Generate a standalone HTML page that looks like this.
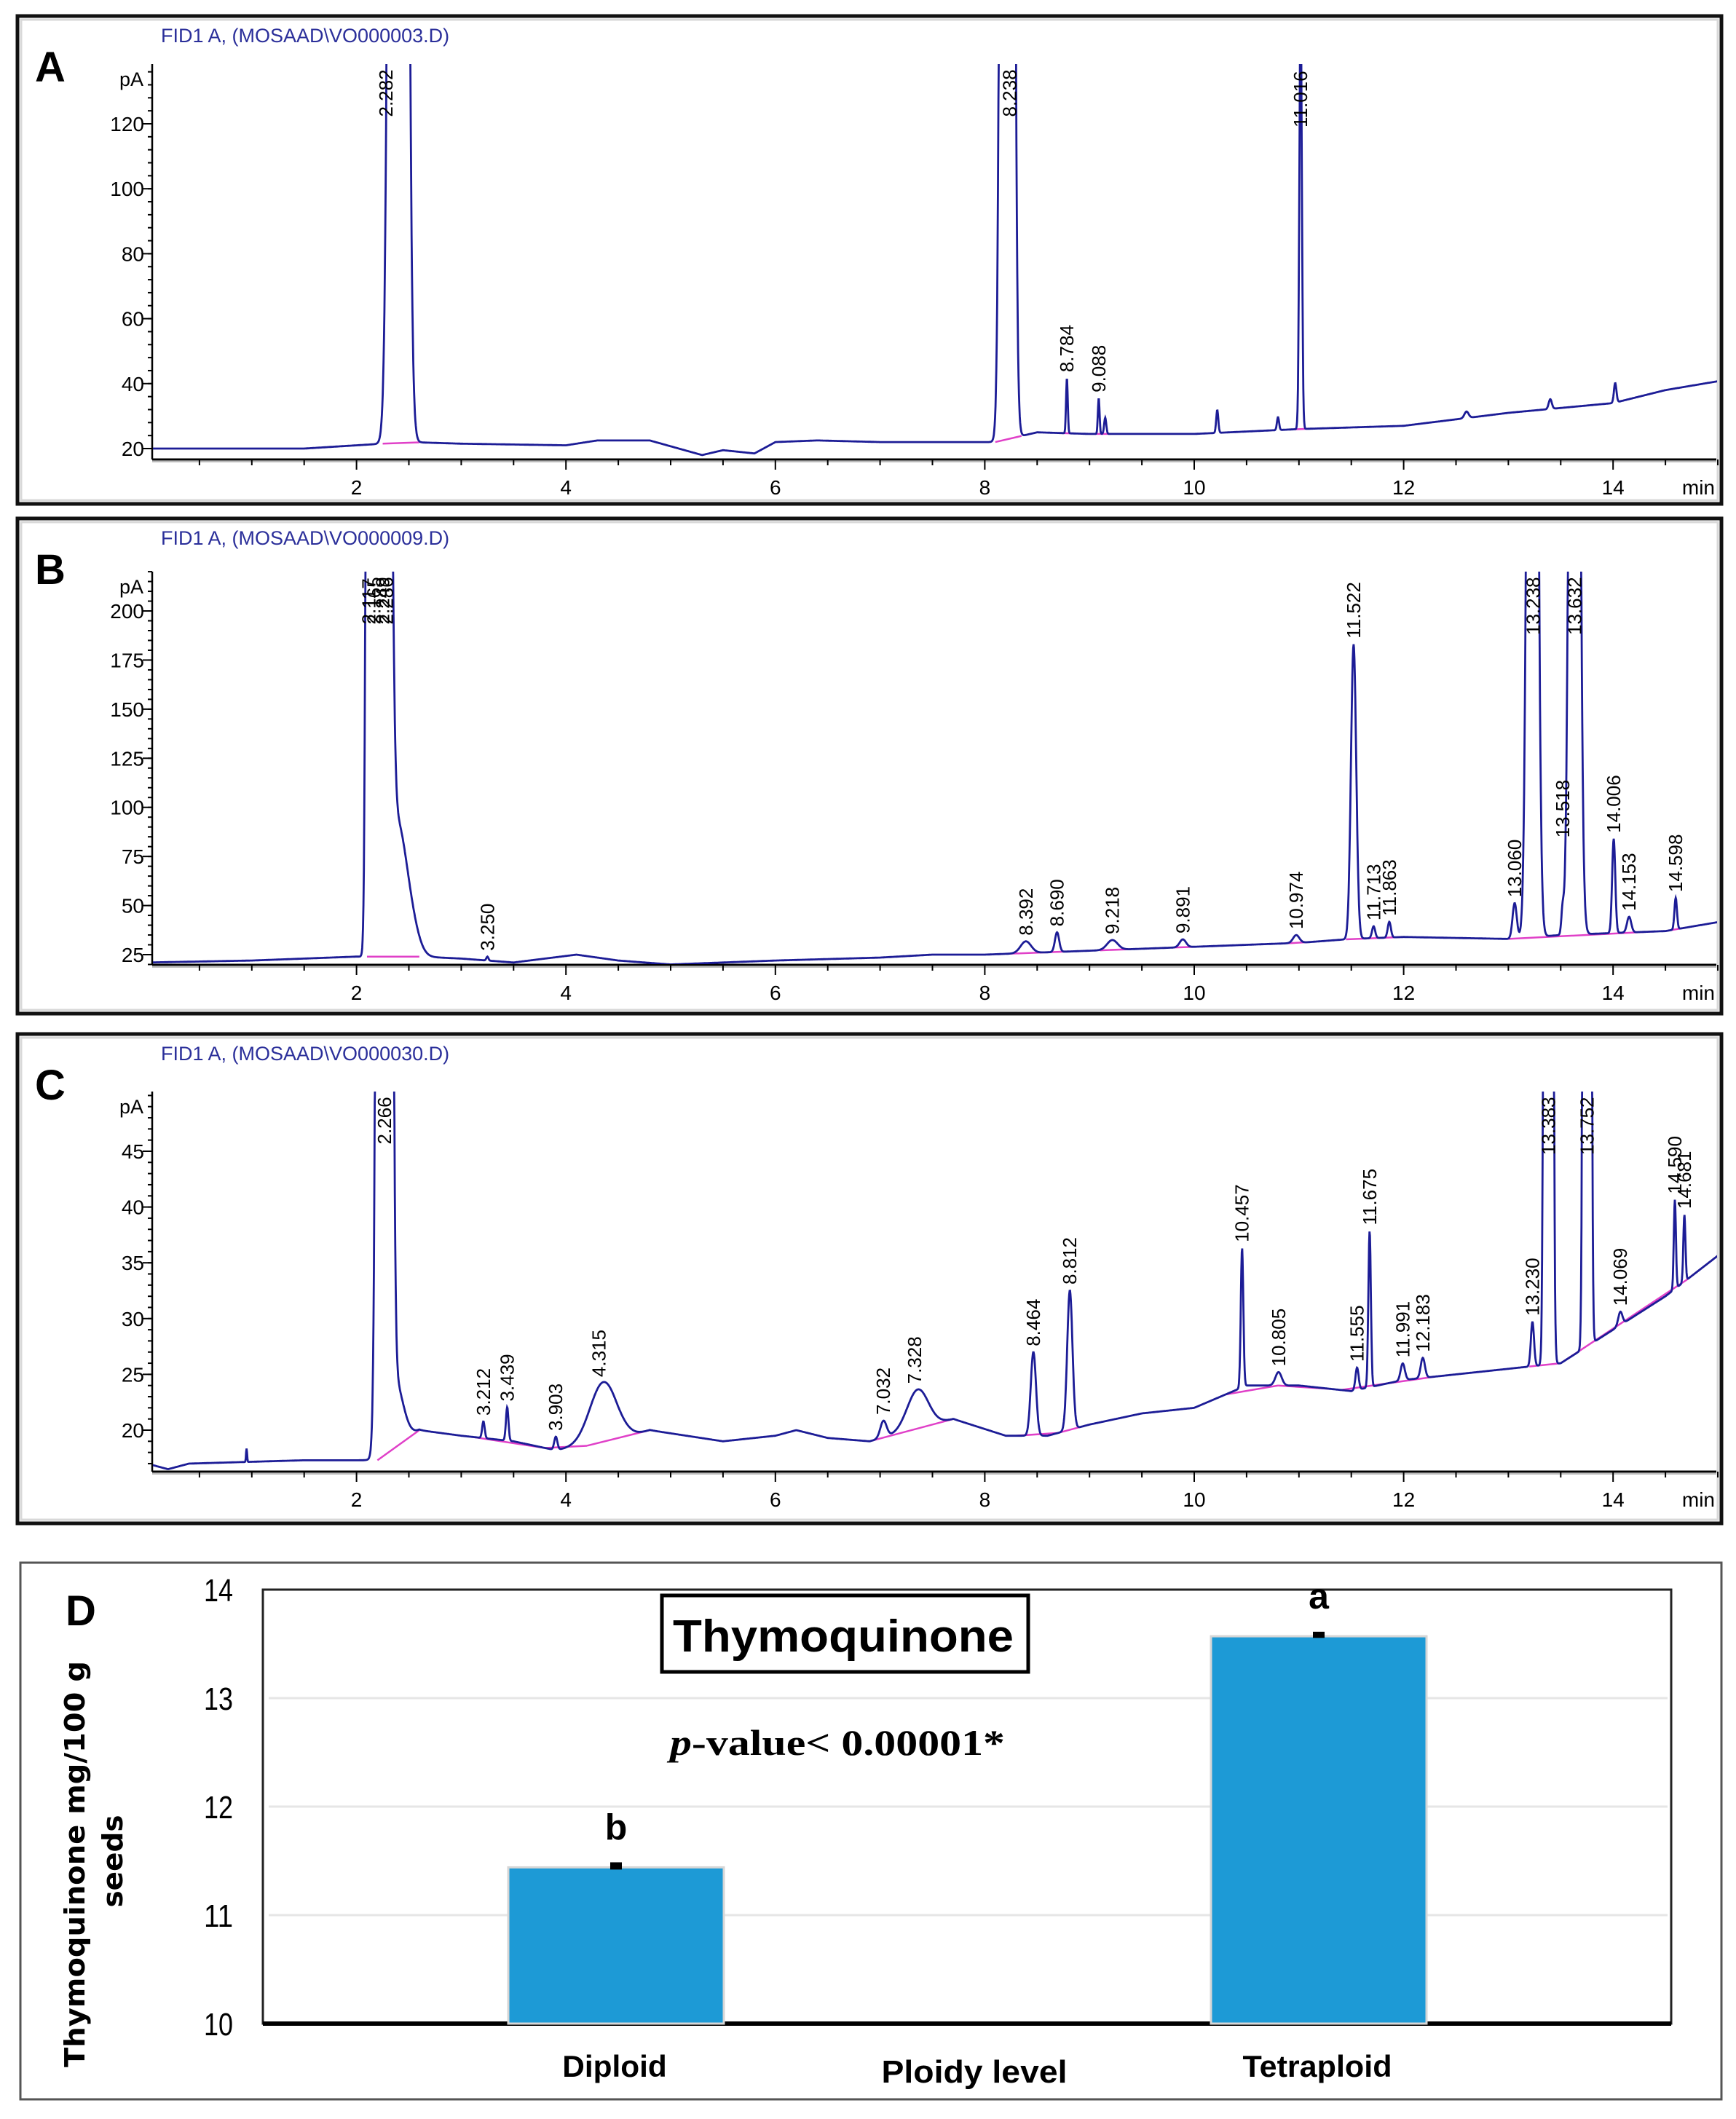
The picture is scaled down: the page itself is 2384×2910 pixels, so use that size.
<!DOCTYPE html>
<html><head><meta charset="utf-8">
<style>
html,body{margin:0;padding:0;background:#fff;}
svg{display:block;}
text{font-family:"Liberation Sans",Arial,sans-serif;}
</style></head>
<body>
<svg id="fig" width="2384" height="2910" viewBox="0 0 2384 2910" xmlns="http://www.w3.org/2000/svg">
<rect x="0" y="0" width="2384" height="2910" fill="#fff"/>
</svg>
<script>
// ---------- Panel A data ----------
const aBaseT = [0,1.5,2,2.5,3,4,4.3,4.8,5.3,5.5,5.8,6,6.4,7,8.1,8.5,9,10,11,12,13,14,14.5,15.05];
const aBaseP = [20,20,21,22,21.5,21,22.5,22.5,18,19.5,18.5,22,22.5,22,22,25,24.5,24.5,26,27,31,34,38,41];
const aPeakT = [2.40,8.215,8.784,9.088,9.15,10.22,10.8,11.016,12.6,13.4,14.02];
const aPeakH = [2000,2000,17,11,5,7,4,130,2,3,6];
const aPeakW = [0.048,0.035,0.008,0.008,0.01,0.01,0.01,0.012,0.02,0.015,0.012];
const aLabels = ["2.282","8.238","8.784","9.088","11.016"];
const aLabelT = [2.282,8.238,8.784,9.088,11.016];
const aIntT = [[2.25,2.6],[8.1,8.35],[8.7,8.85],[9.0,9.2],[10.9,11.1]];
const aYTicks = [20,40,60,80,100,120];

// ---------- Panel B data ----------
const bBaseT = [0,1,2,2.6,3,3.5,4.1,4.5,5,5.5,6,7,7.5,8,8.5,9,10,11,11.5,12,13,13.5,14,14.5,15.05];
const bBaseP = [21,22,24,24,23,21,25,22,20,21,22,23.5,25,25,26,27,29,31,33,34,33,35,36,37,42];
const bPeakT = [2.12,2.20,2.27,2.38,2.50,3.25,8.392,8.69,9.218,9.891,10.974,11.522,11.713,11.863,13.06,13.23,13.518,13.632,14.006,14.153,14.598];
const bPeakH = [1000,600,1000,60,20,2,6,10,5,4,4,150,6,8,18,1000,12,1000,48,8,16];
const bPeakW = [0.02,0.03,0.04,0.08,0.08,0.01,0.05,0.02,0.05,0.03,0.03,0.025,0.015,0.015,0.02,0.035,0.012,0.035,0.015,0.02,0.012];
const bLabels = ["2.117","2.165","2.249","2.286","3.250","8.392","8.690","9.218","9.891","10.974","11.522","11.713","11.863","13.060","13.238","13.518","13.632","14.006","14.153","14.598"];
const bLabelT = [2.117,2.165,2.249,2.286,3.250,8.392,8.690,9.218,9.891,10.974,11.522,11.713,11.863,13.060,13.238,13.518,13.632,14.006,14.153,14.598];
const bIntT = [[2.1,2.6],[8.2,8.6],[8.6,8.8],[9.1,9.4],[9.8,10],[10.9,11.1],[11.45,12.0],[13.0,14.4],[14.5,14.7]];
const bYTicks = [25,50,75,100,125,150,175,200];

// ---------- Panel C data ----------
const cBaseT = [0,0.2,0.4,1.5,2.2,2.3,2.6,3,3.5,3.9,4.5,4.8,5.5,6,6.2,6.5,6.9,7.3,7.7,8.2,8.6,9,9.5,10,10.5,11,11.5,12,12.5,13,13.5,14,14.5,15.05];
const cBaseP = [17,16.5,17,17.3,17.3,18,20,19.5,19,18.2,19,20,19,19.5,20,19.3,19,20,21,19.5,19.5,20.5,21.5,22,24,24,23.5,24.5,25,25.5,26,29,32,36];
const cPeakT = [0.95,2.266,2.36,3.212,3.439,3.903,4.36,7.032,7.36,8.464,8.812,10.457,10.805,11.555,11.675,11.991,12.183,13.23,13.383,13.752,14.069,14.59,14.681];
const cPeakH = [1.2,1000,6,1.5,3,1.2,5.5,1.5,3.5,7.5,12.5,12.5,1.2,2,14,1.5,1.8,4,1000,1000,1.2,8,6];
const cPeakW = [0.005,0.035,0.08,0.012,0.012,0.015,0.13,0.03,0.1,0.025,0.025,0.012,0.03,0.015,0.012,0.02,0.02,0.015,0.02,0.018,0.02,0.01,0.01];
const cLabels = ["2.266","3.212","3.439","3.903","4.315","7.032","7.328","8.464","8.812","10.457","10.805","11.555","11.675","11.991","12.183","13.230","13.383","13.752","14.069","14.590","14.681"];
const cLabelT = [2.266,3.212,3.439,3.903,4.315,7.032,7.328,8.464,8.812,10.457,10.805,11.555,11.675,11.991,12.183,13.230,13.383,13.752,14.069,14.590,14.681];
const cIntT = [[2.2,2.6],[3.1,3.8],[3.8,4.2],[4.2,4.8],[6.9,7.7],[8.3,8.7],[8.7,9.0],[10.3,10.8],[10.8,11.3],[11.4,12.3],[13.2,13.5],[13.5,14.7],[14.7,15.0]];
const cYTicks = [20,25,30,35,40,45];

// ---------- Panel D data ----------
const dCats = ["Diploid","Tetraploid"];
const dVals = [11.44,13.57];
const dErr = [0.02,0.015];
const dLetters = ["b","a"];
const dYTicks = [10,11,12,13,14];

const NS = "http://www.w3.org/2000/svg";
const svg = document.getElementById("fig");
function mk(tag, attrs, parent){
  const e = document.createElementNS(NS, tag);
  for (const k in attrs) e.setAttribute(k, attrs[k]);
  (parent||svg).appendChild(e);
  return e;
}
const xT = t => 202 + 143.8 * t;
const X0 = 209, X1 = 2357;

function interp(ts, ps, t){
  if (t <= ts[0]) return ps[0];
  for (let i=1;i<ts.length;i++){ if (t<=ts[i]){ const f=(t-ts[i-1])/(ts[i]-ts[i-1]); return ps[i-1]+f*(ps[i]-ps[i-1]); } }
  return ps[ps.length-1];
}
function signal(P, t){
  let v = interp(P.bT, P.bP, t);
  for (let i=0;i<P.pT.length;i++){ const z=(t-P.pT[i])/P.pW[i]; if (Math.abs(z)<8) v += P.pH[i]*Math.exp(-0.5*z*z); }
  return v;
}

function panel(P){
  const g = mk("g", {}, svg);
  
  
  const fr = mk("rect", {x:P.fx, y:P.fy, width:P.fw, height:P.fh, fill:"#fff", stroke:"#111", "stroke-width":5}, g);
  
  
  mk("rect", {x:P.fx+5, y:P.fy+5, width:P.fw-10, height:P.fh-10, fill:"none", stroke:"#d8d8d8", "stroke-width":3}, g);
  const yP = p => P.yRef - (p - P.pRef) * P.k;
  const ti = mk("text", {x:221, y:P.fy+36, "font-size":27, fill:"#2b2f9a"}, g);
  ti.textContent = P.title;
  
  
  const lt = mk("text", {x:48, y:P.fy+90, "font-size":58, "font-weight":"bold", fill:"#000"}, g);
  lt.textContent = P.letter;
  
  
  const ax = mk("line", {x1:X0, y1:P.top, x2:X0, y2:P.bot, stroke:"#000", "stroke-width":2.5}, g);
  
  
  const pa = mk("text", {x:197, y:P.top+30, "font-size":27, "text-anchor":"end", fill:"#000"}, g);
  pa.textContent = "pA";
  
  
  const step = P.yt[1]-P.yt[0];
  for (let p = P.yt[0]-step; p <= P.yt[P.yt.length-1]+step*2; p += step/5){
    const y = yP(p); if (y < P.top || y > P.bot) continue;
    mk("line", {x1:X0-6, y1:y, x2:X0, y2:y, stroke:"#000", "stroke-width":2}, g);
  }
  P.yt.forEach(v=>{
    const y = yP(v);
    mk("line", {x1:X0-13, y1:y, x2:X0, y2:y, stroke:"#000", "stroke-width":2}, g);
    const t = mk("text", {x:198, y:y+10, "font-size":28, "text-anchor":"end", fill:"#000"}, g);
    t.textContent = v;
    
    
  });
  const xa = mk("line", {x1:X0, y1:P.bot, x2:X1, y2:P.bot, stroke:"#000", "stroke-width":3}, g);
  
  
  mk("line", {x1:X0, y1:P.bot+3, x2:X1, y2:P.bot+3, stroke:"#bbb", "stroke-width":2}, g);
  for (let t=0.5; t<=15; t+=0.5){
    const major = (t%2===0);
    mk("line", {x1:xT(t), y1:P.bot, x2:xT(t), y2:P.bot+(major?14:8), stroke:"#000", "stroke-width":2}, g);
  }
  for (let t=2; t<=14; t+=2){
    const tl = mk("text", {x:xT(t), y:P.bot+48, "font-size":28, "text-anchor":"middle", fill:"#000"}, g);
    tl.textContent = t;
    
    
  }
  const mn = mk("text", {x:X1-2, y:P.bot+48, "font-size":28, "text-anchor":"end", fill:"#000"}, g);
  mn.textContent = "min";
  
  
  const cid = "clip"+P.letter;
  const cp = mk("clipPath", {id:cid}, g);
  mk("rect", {x:X0+1, y:P.top, width:X1-X0, height:P.bot-P.top-1}, cp);
  P.it.forEach(s=>{
    const l = mk("line", {x1:xT(s[0]), y1:yP(interp(P.bT,P.bP,s[0])), x2:xT(s[1]), y2:yP(interp(P.bT,P.bP,s[1])), stroke:"#e040c8", "stroke-width":2.5, "clip-path":"url(#"+cid+")"}, g);
    
    
  });
  let d = "";
  for (let t=0.05; t<=15.05; t+=0.004){
    const y = Math.max(P.top-20, Math.min(P.bot, yP(signal(P,t))));
    d += (d?"L":"M") + xT(t).toFixed(1) + "," + y.toFixed(1);
  }
  const tr = mk("path", {d:d, fill:"none", stroke:"#1c1c96", "stroke-width":2.8, "clip-path":"url(#"+cid+")"}, g);
  
  
  P.lT.forEach((t,i)=>{
    let mx = -1e9;
    for (let u=t-0.03; u<=t+0.03; u+=0.003) mx = Math.max(mx, signal(P,u));
    let yb = yP(mx) - 8;
    const len = P.labels[i].length*14.5;
    if (yb - len < P.top) yb = P.top + len;
    const x = xT(t) + 9;
    const lb = mk("text", {x:x, y:yb, "font-size":26, fill:"#000", transform:"rotate(-90 "+x+" "+yb+")"}, g);
    lb.textContent = P.labels[i];
    
    
  });
}

panel({name:"panel-a", letter:"A", title:"FID1 A, (MOSAAD\\VO000003.D)", fx:24, fy:22, fw:2340, fh:670,
  top:88, bot:631, yRef:616, pRef:20, k:4.46, yt:aYTicks,
  bT:aBaseT, bP:aBaseP, pT:aPeakT, pH:aPeakH, pW:aPeakW, labels:aLabels, lT:aLabelT, it:aIntT});
panel({name:"panel-b", letter:"B", title:"FID1 A, (MOSAAD\\VO000009.D)", fx:24, fy:712, fw:2340, fh:680,
  top:785, bot:1325, yRef:1311, pRef:25, k:2.697, yt:bYTicks,
  bT:bBaseT, bP:bBaseP, pT:bPeakT, pH:bPeakH, pW:bPeakW, labels:bLabels, lT:bLabelT, it:bIntT});
panel({name:"panel-c", letter:"C", title:"FID1 A, (MOSAAD\\VO000030.D)", fx:24, fy:1420, fw:2340, fh:672,
  top:1499, bot:2021, yRef:1964, pRef:20, k:15.32, yt:cYTicks,
  bT:cBaseT, bP:cBaseP, pT:cPeakT, pH:cPeakH, pW:cPeakW, labels:cLabels, lT:cLabelT, it:cIntT});

// ---------- Panel D ----------
(function(){
  const g = mk("g", {}, svg);
  
  
  const fr = mk("rect", {x:28, y:2146, width:2336, height:737, fill:"#fff", stroke:"#555", "stroke-width":3}, g);
  
  
  const PL=361, PR=2295, PT=2183, PB=2779;
  const yV = v => PB - (v-10)*149;
  mk("rect", {x:PL, y:PT, width:PR-PL, height:PB-PT, fill:"none", stroke:"#222", "stroke-width":3}, g);
  dYTicks.forEach(v=>{
    const y = yV(v);
    if (v>10 && v<14){
      const gl = mk("line", {x1:PL+8, y1:y, x2:PR-5, y2:y, stroke:"#e6e6e6", "stroke-width":3}, g);
      
      
    }
    const t = mk("text", {x:320, y:y+16, "font-size":44, "text-anchor":"end", fill:"#000", textLength:40, lengthAdjust:"spacingAndGlyphs"}, g);
    t.textContent = v;
    
    
  });
  const xa = mk("line", {x1:PL, y1:PB, x2:PR, y2:PB, stroke:"#000", "stroke-width":6}, g);
  
  
  const centers = [846, 1811], bw = 296;
  dVals.forEach((v,i)=>{
    const b = mk("rect", {x:centers[i]-bw/2, y:yV(v), width:bw, height:PB-yV(v), fill:"#1d9ad6", stroke:"#d6d6d6", "stroke-width":3}, g);
    
    
    const e = mk("rect", {x:centers[i]-8, y:yV(v+dErr[i])-4, width:16, height:yV(v-dErr[i])-yV(v+dErr[i])+4, fill:"#000"}, g);
    
    
    const l = mk("text", {x:centers[i], y:yV(v)-38, "font-size":50, "font-weight":"bold", "text-anchor":"middle", fill:"#000"}, g);
    l.textContent = dLetters[i];
    
    
    const c = mk("text", {x:centers[i]-2, y:2852, "font-size":42, "font-weight":"bold", "text-anchor":"middle", fill:"#000", textLength:dCats[i].length*20.5, lengthAdjust:"spacingAndGlyphs"}, g);
    c.textContent = dCats[i];
    
    
  });
  const xt = mk("text", {x:1338, y:2860, "font-size":44, "font-weight":"bold", "text-anchor":"middle", fill:"#000", textLength:255, lengthAdjust:"spacingAndGlyphs"}, g);
  xt.textContent = "Ploidy level";
  
  
  const tb = mk("rect", {x:909, y:2191, width:503, height:105, fill:"#fff", stroke:"#000", "stroke-width":5}, g);
  
  
  const tt = mk("text", {x:1158, y:2268, "font-size":62, "font-weight":"bold", "text-anchor":"middle", fill:"#000", textLength:468, lengthAdjust:"spacingAndGlyphs"}, g);
  tt.textContent = "Thymoquinone";
  
  
  const pv = mk("text", {x:920, y:2410, "font-size":50, "font-weight":"bold", fill:"#000", style:"font-family:'Liberation Serif',serif", textLength:460, lengthAdjust:"spacingAndGlyphs"}, g);
  const ps = mk("tspan", {"font-style":"italic"}, pv); ps.textContent = "p";
  const rest = mk("tspan", {}, pv); rest.textContent = "-value< 0.00001*";
  
  
  const y1 = mk("text", {x:0, y:0, "font-size":38, "font-weight":"bold", "text-anchor":"middle", fill:"#000", style:"font-family:'DejaVu Sans',sans-serif", textLength:558, lengthAdjust:"spacingAndGlyphs", transform:"translate(116 2560) rotate(-90)"}, g);
  y1.textContent = "Thymoquinone  mg/100 g";
  
  
  const y2 = mk("text", {x:0, y:0, "font-size":38, "font-weight":"bold", "text-anchor":"middle", fill:"#000", style:"font-family:'DejaVu Sans',sans-serif", textLength:127, lengthAdjust:"spacingAndGlyphs", transform:"translate(168 2556) rotate(-90)"}, g);
  y2.textContent = "seeds";
  
  
  const dl = mk("text", {x:90, y:2232, "font-size":58, "font-weight":"bold", fill:"#000"}, g);
  dl.textContent = "D";
  
  
})();
</script>
</body></html>
